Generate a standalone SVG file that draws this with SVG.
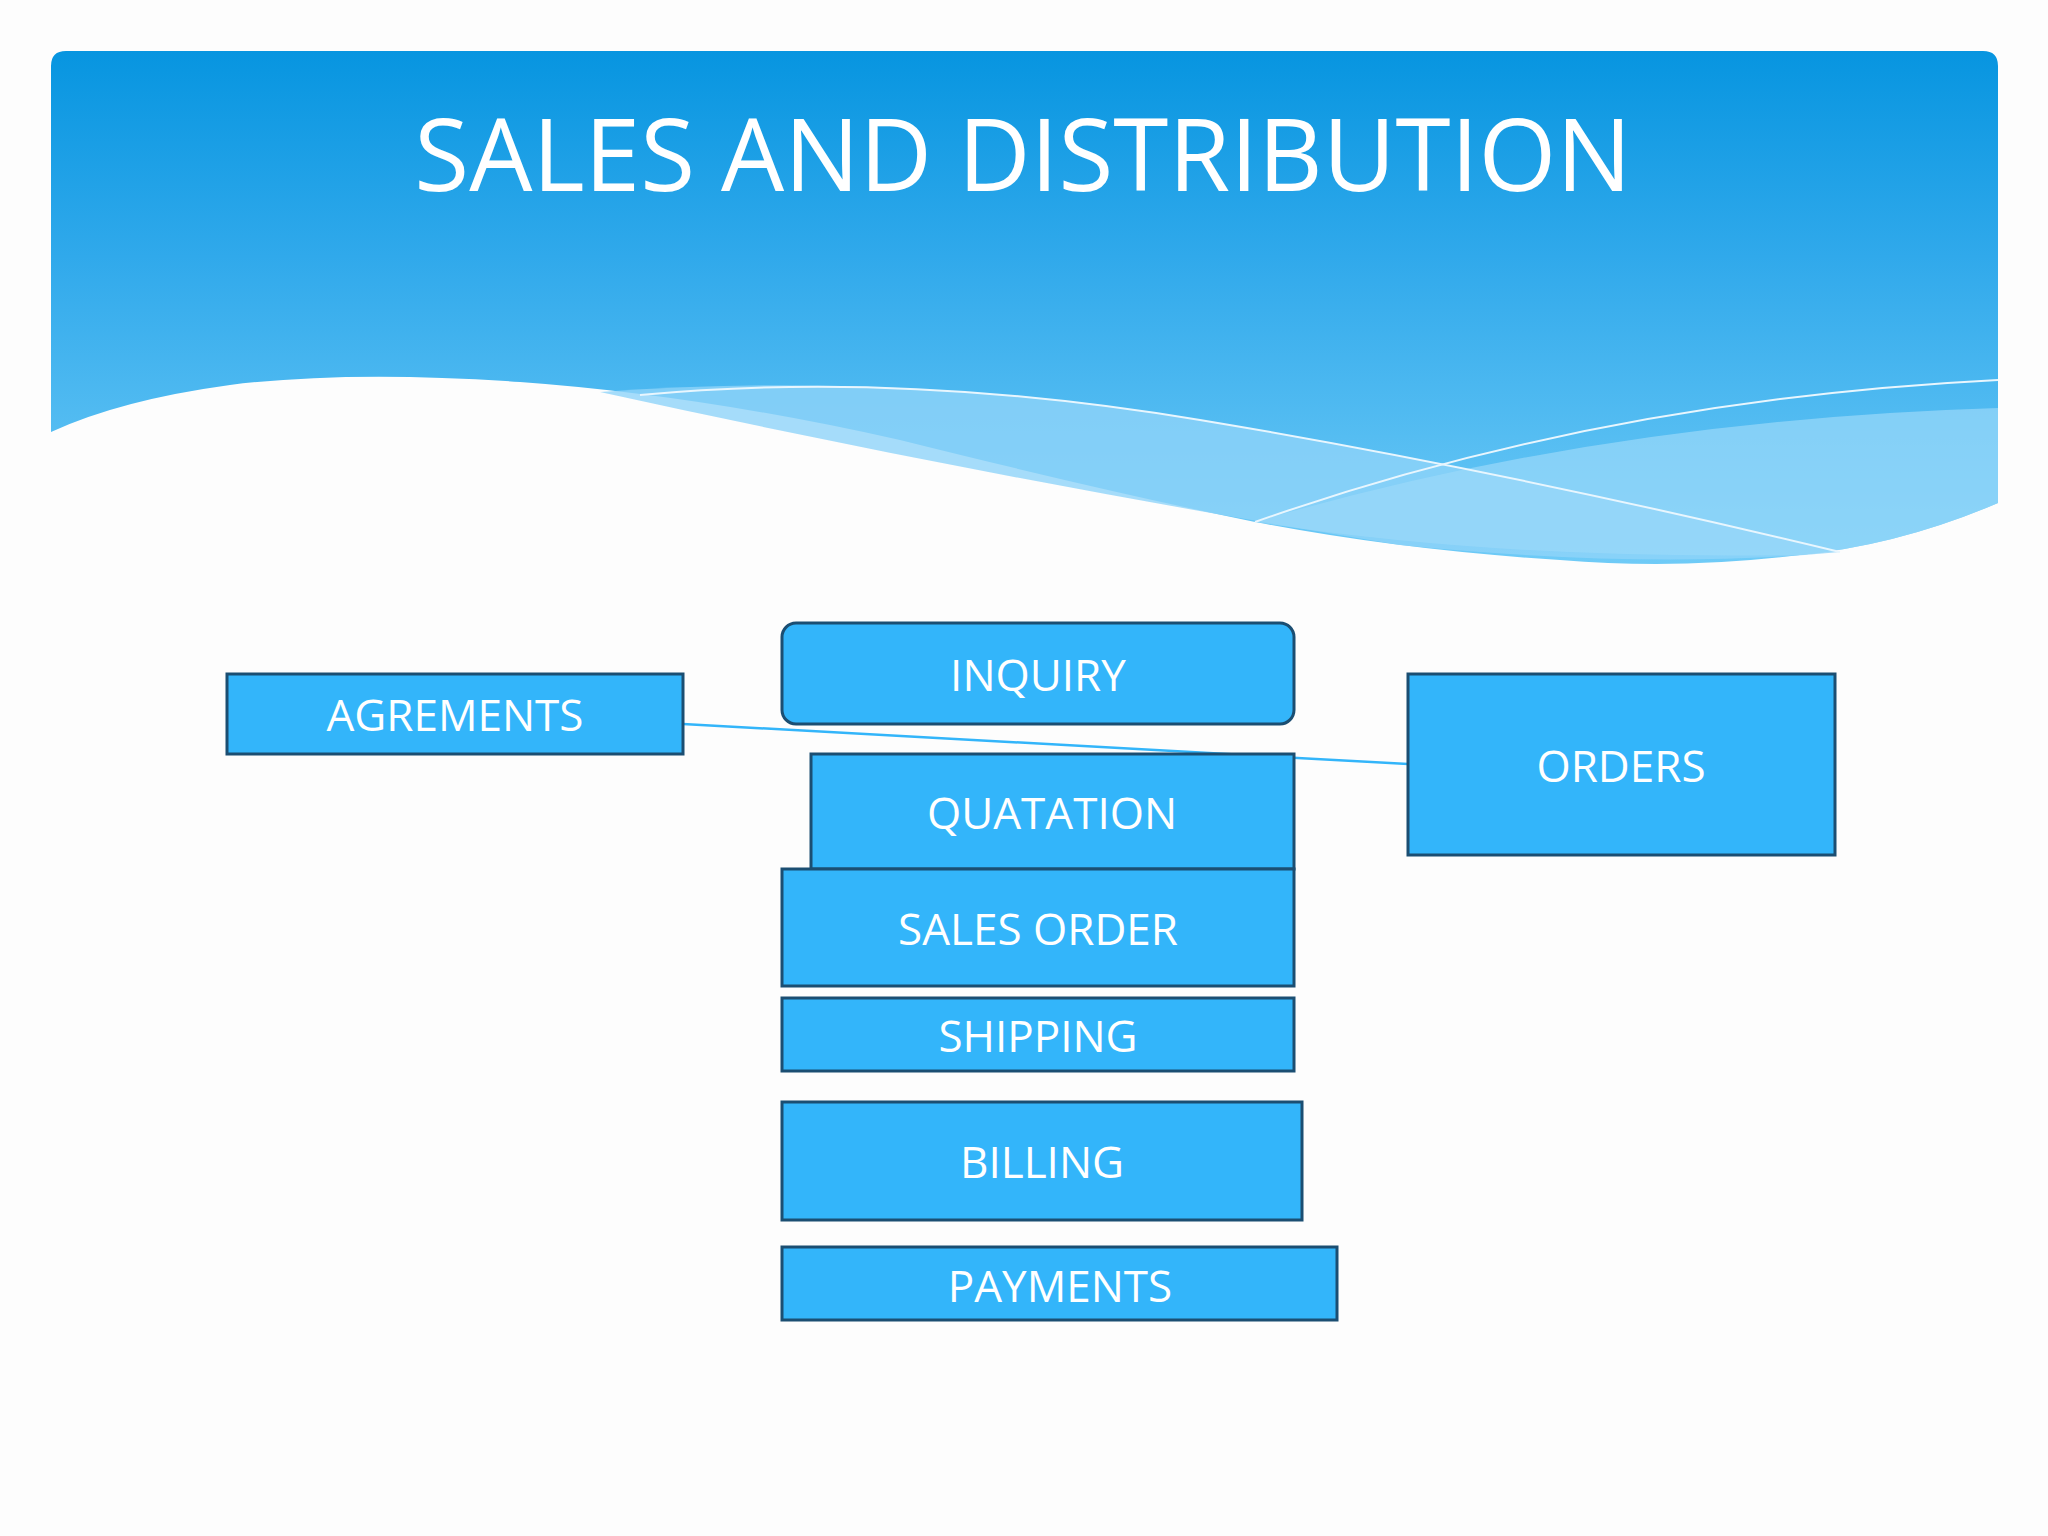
<svg xmlns="http://www.w3.org/2000/svg" width="2048" height="1536" viewBox="0 0 2048 1536">
<defs>
<linearGradient id="hg" x1="0" y1="0" x2="0" y2="1">
<stop offset="0" stop-color="#0795E0"/><stop offset="0.4" stop-color="#30A9EB"/><stop offset="1" stop-color="#6FCBF7"/>
</linearGradient>
<style>
.box{fill:#33B5FA;stroke:#1B4E72;stroke-width:3}
.lbl{font-family:"Open Sans","Liberation Sans",sans-serif;font-size:44px;fill:#fff;text-anchor:middle;dominant-baseline:central}
</style>
</defs>
<rect width="2048" height="1536" fill="#FDFDFD"/>
<path d="M51,66 Q51,51 66,51 L1983,51 Q1998,51 1998,66 L1998,503 Q1900,545 1800,555 Q1680,570 1560,560 Q1400,550 1255,522 Q1100,490 900,440 Q700,395 520,382 Q350,370 230,385 Q120,400 51,432 Z" fill="url(#hg)"/>
<path d="M600,392 Q900,370 1200,420 Q1500,470 1840,552 Q1650,570 1400,545 Q1000,480 600,392 Z" fill="#8FD3F9" opacity="0.8"/>
<path d="M1255,522 Q1600,420 1998,408 L1998,503 Q1900,545 1800,555 Q1500,560 1255,522 Z" fill="#9AD8FA" opacity="0.7"/>
<path d="M640,395 Q900,370 1200,420 Q1500,470 1840,552" fill="none" stroke="#E8F6FE" stroke-width="2"/>
<path d="M1255,522 Q1600,400 1998,380" fill="none" stroke="#E8F6FE" stroke-width="2"/>
<text x="1023" y="152" class="lbl" style="font-size:100px">SALES AND DISTRIBUTION</text>
<g id="connectors"><line x1="683" y1="724" x2="1408" y2="764" stroke="#33B5FA" stroke-width="2.5"/></g>
<g id="agrements"><rect class="box" x="227" y="674" width="456" height="80"/><text class="lbl" x="455" y="714">AGREMENTS</text></g>
<g id="inquiry"><rect class="box" x="782" y="623" width="512" height="101" rx="14"/><text class="lbl" x="1038" y="674">INQUIRY</text></g>
<g id="quatation"><rect class="box" x="811" y="754" width="483" height="115"/><text class="lbl" x="1052" y="812">QUATATION</text></g>
<g id="salesorder"><rect class="box" x="782" y="869" width="512" height="117"/><text class="lbl" x="1038" y="928">SALES ORDER</text></g>
<g id="shipping"><rect class="box" x="782" y="998" width="512" height="73"/><text class="lbl" x="1038" y="1035">SHIPPING</text></g>
<g id="billing"><rect class="box" x="782" y="1102" width="520" height="118"/><text class="lbl" x="1042" y="1161">BILLING</text></g>
<g id="payments"><rect class="box" x="782" y="1247" width="555" height="73"/><text class="lbl" x="1060" y="1285">PAYMENTS</text></g>
<g id="orders"><rect class="box" x="1408" y="674" width="427" height="181"/><text class="lbl" x="1621" y="765">ORDERS</text></g>
</svg>
